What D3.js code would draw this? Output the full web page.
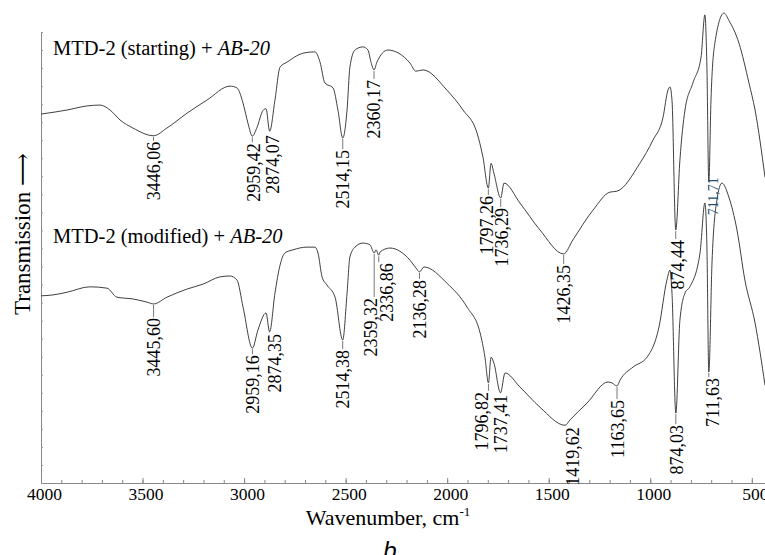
<!DOCTYPE html>
<html>
<head>
<meta charset="utf-8">
<script src="https://cdn.jsdelivr.net/npm/d3@7"></script>
<style>
  body { margin: 0; background: #fff; }
  svg { display: block; }
  svg text { font-family: "Liberation Serif", "Times New Roman", "DejaVu Serif", serif; }
</style>
</head>
<body>
<svg width="765" height="555"></svg>
<script>
// IR spectra, wavenumber (cm-1) vs transmission (arbitrary units)
var wnTop = [4000,3872,3774,3710,3660,3611,3547,3446.06,3380,3281,3183,3069,3035,3005,2981,2959.42,2936,2907,2892,2874.07,
    2848,2823,2789,2710,2651,2626,2602,2562,2538,2514.15,2493,2479,2454,2415,2390,2375,2360.17,2346,2292,2183,2154,2119,
    2001,1922,1853,1824,1797.26,1784,1770,1736.29,1720,1642,1543,1426.35,1381,1282,1198,1164,1051,987,937,913,903,893,
    874.44,854,829,790,750,731,721,711.71,701,682,637,613,563,514,484,435];
var tTop = [81.8,82.7,83.6,83.8,82.7,80.5,78.7,77.0,78.7,82.0,84.9,88.0,87.6,84.2,79.8,76.9,78.9,82.6,83.0,78.0,
    84.9,92.2,93.3,95.3,95.6,93.3,88.7,87.6,82.7,76.5,82.7,92.2,96.0,96.7,96.0,93.3,91.6,93.3,96.0,93.1,91.3,91.6,
    87.1,82.7,77.6,72.3,65.4,70.9,68.7,63.2,66.5,62.1,56.1,50.8,53.9,60.5,64.5,64.7,70.9,76.0,81.1,87.1,87.8,84.9,
    56.1,71.6,82.7,88.7,94.4,103.8,92.2,66.7,84.9,97.5,104.2,102.6,97.5,88.7,82.7,67.8];

var wnBottom = [4000,3941,3872,3759,3675,3626,3547,3478,3445.60,3380,3281,3202,3119,3069,3035,3005,2959.16,2932,2892,2874.35,
    2848,2823,2799,2759,2690,2651,2636,2616,2592,2552,2514.38,2493,2479,2454,2415,2380,2359.32,2350,2336.86,2331,2282,
    2183,2154,2136.28,2114,2001,1902,1838,1814,1796.82,1784,1770,1737.41,1715,1642,1543,1419.62,1395,1312,1208,1189,
    1163.65,1149,1085,1016,957,918,903,893,874.03,854,829,805,755,731,721,711.63,696,672,647,613,573,534,484,435];
var tBottom = [41.5,41.7,42.3,43.5,43.2,41.2,40.8,40.1,39.7,41.2,43.0,44.1,45.7,45.9,45.0,39.0,29.9,33.9,37.7,33.5,
    42.1,48.3,51.0,51.7,52.3,52.3,51.0,45.7,43.9,41.2,31.7,42.1,50.1,52.3,53.2,52.8,51.0,51.7,50.5,51.2,52.1,
    49.4,47.7,46.8,47.9,44.3,39.0,33.3,27.9,22.2,27.9,26.6,20.0,24.4,21.3,16.8,12.8,14.0,17.7,22.4,22.2,
    21.5,22.8,25.7,27.9,34.6,45.0,47.2,42.1,15.5,36.1,42.1,43.5,51.0,62.1,52.3,24.6,48.8,62.7,66.5,63.4,56.1,45.0,35.5,21.7];

var peaksTop = [3446.06, 2959.42, 2874.07, 2514.15, 2360.17, 1797.26, 1736.29, 1426.35, 874.44, 711.71];
var peaksBottom = [3445.60, 2959.16, 2874.35, 2514.38, 2359.32, 2336.86, 2136.28, 1796.82, 1737.41, 1419.62, 1163.65, 874.03, 711.63];

var titles = ["MTD-2 (starting) + ", "MTD-2 (modified) + "];
var xMajor = [4000, 3500, 3000, 2500, 2000, 1500, 1000, 500];

var svg = d3.select("svg");

var x = d3.scaleLinear().domain([4000, 435]).range([41, 765]);
var y = d3.scaleLinear().domain([0, 100]).range([483, 32]);

// axes
var gx = svg.append("g").attr("transform", "translate(0,483)");
gx.call(d3.axisBottom(x).tickValues(d3.range(4000, 435, -100)).tickSize(-3).tickSizeOuter(0).tickFormat(""));
gx.selectAll(".tick line").attr("stroke", "#888");
gx.select(".domain").attr("stroke", "#888");

var gx2 = svg.append("g").attr("transform", "translate(0,483)");
gx2.call(d3.axisBottom(x).tickValues(xMajor).tickSize(-5).tickSizeOuter(0).tickPadding(5).tickFormat(d3.format("d")));
gx2.select(".domain").remove();
gx2.selectAll(".tick line").attr("stroke", "#888");
gx2.selectAll(".tick text").attr("font-family", null).attr("font-size", 17.5).attr("fill", "#000").attr("dx", 3);

var gy = svg.append("g").attr("transform", "translate(41,0)");
gy.call(d3.axisLeft(y).tickValues(d3.range(0, 101, 4)).tickSize(-2).tickSizeOuter(0).tickFormat(""));
gy.selectAll(".tick line").attr("stroke", "#999");
gy.select(".domain").attr("stroke", "#888");

// spectra
var line = d3.line().x(d => x(d[0])).y(d => y(d[1])).curve(d3.curveMonotoneX);
var series = [d3.zip(wnTop, tTop), d3.zip(wnBottom, tBottom)];

svg.append("g").selectAll("path")
    .data(series).enter()
    .append("path")
    .attr("fill", "none").attr("stroke", "#2a2a2a").attr("stroke-width", 0.9)
    .attr("d", line);

// peak annotations: [lead length, horizontal shift] per label
var offTop = [[6,0],[7,1],[4,3],[12,0],[10,0],[8,-2],[10,1],[11,0],[10,2],[-5,4]];
var offBottom = [[14,0],[7,0],[2,5],[10,0],[45,-4],[8,8],[8,0],[9,-7],[2,0],[2,8],[14,1],[12,1],[6,4]];
var fmt = function(v) { return d3.format(".2f")(v).replace(".", ","); };

function annotate(peaks, wn, tv, offs, cls) {
    var g = svg.append("g").attr("class", cls);
    peaks.forEach(function(p, i) {
        var k = wn.indexOf(p);
        var px = x(p), py = y(tv[k]);
        var lead = offs[i][0], dx = offs[i][1];
        if (lead > 4) {
            g.append("line")
                .attr("x1", px).attr("x2", px)
                .attr("y1", py + 1).attr("y2", py + lead - 1)
                .attr("stroke", "#777").attr("stroke-width", 1);
        }
        var small = (p === 711.71);
        g.append("text")
            .attr("transform", "translate(" + (px + dx) + "," + (py + lead) + ") rotate(-90)")
            .attr("text-anchor", "end").attr("dy", "0.35em")
            .attr("font-size", small ? 14 : 18)
            .attr("fill", small ? "#1d4f73" : "#000")
            .text(fmt(p));
    });
}
annotate(peaksTop, wnTop, tTop, offTop, "peaks-top");
annotate(peaksBottom, wnBottom, tBottom, offBottom, "peaks-bottom");

// sample titles
[55, 243].forEach(function(by, i) {
    var t = svg.append("text").attr("x", 53).attr("y", by)
        .attr("font-size", 20.5).attr("fill", "#000");
    t.append("tspan").text(titles[i]);
    t.append("tspan").attr("font-style", "italic").text("AB-20");
});

// axis titles
svg.append("text")
    .attr("transform", "translate(30,315) rotate(-90)")
    .attr("font-size", 23).attr("fill", "#000")
    .text("Transmission \u27F6");

var xt = svg.append("text").attr("x", 388).attr("y", 525).attr("text-anchor", "middle")
    .attr("font-size", 22).attr("fill", "#000");
xt.append("tspan").text("Wavenumber, cm");
xt.append("tspan").attr("font-size", 13).attr("dy", -9).text("-1");

svg.append("text").attr("x", 390).attr("y", 559).attr("text-anchor", "middle")
    .style("font-family", "'Liberation Sans', Arial, sans-serif").attr("font-style", "italic")
    .attr("font-size", 24).attr("fill", "#000").text("b");
</script>
</body>
</html>
